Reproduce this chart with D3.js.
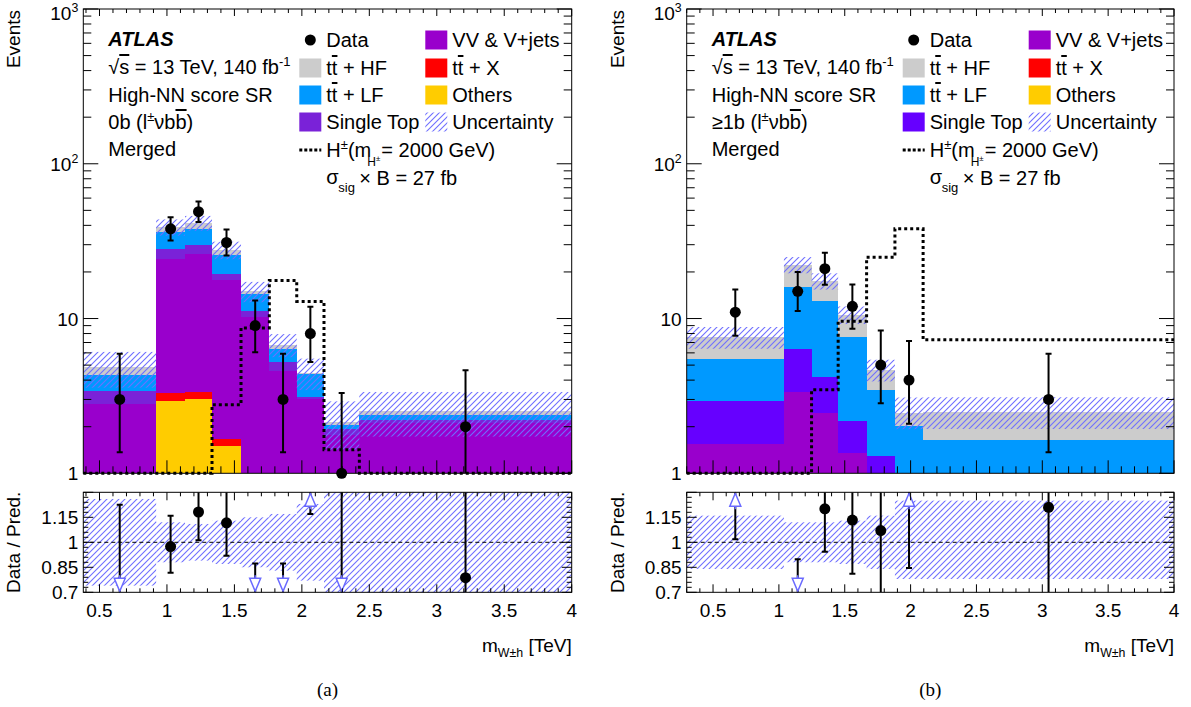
<!DOCTYPE html>
<html>
<head>
<meta charset="utf-8">
<script src="https://cdn.jsdelivr.net/npm/d3@7"></script>
<style>
  body { margin: 0; background: #fff; }
  svg text { font-family: "Liberation Sans", Arial, sans-serif; fill: #000; }
</style>
</head>
<body>
<div id="chart"></div>
<script>
// ---------- data ----------
// (a) 0b region, bin edges in TeV
const edgesA = [0.38, 0.92, 1.134, 1.334, 1.549, 1.759, 1.962, 2.164, 2.426, 4.0];
const dataA = [3, 38, 49, 31, 9, 3, 8, 1, 2];
const dataLoA = [1.37, 31.9, 42.0, 25.5, 6.06, 1.37, 5.24, 0.17, 0.71];
const dataHiA = [5.92, 45.2, 57.1, 37.6, 13.1, 5.92, 11.9, 3.30, 4.64];
const othersA = [0, 2.94, 3.03, 1.49, 0, 0, 0, 0, 0];
const ttxA = [0, 0.36, 0.33, 0.17, 0, 0, 0, 0, 0];
const vvA = [2.81, 21.0, 22.9, 16.2, 10.3, 4.55, 3.01, 1.77, 2.11];
const singleTopA = [0.60, 3.9, 3.4, 1.5, 0.9, 0.68, 0.12, 0.16, 0.10];
const ttlfA = [0.92, 8.0, 8.3, 6.4, 3.3, 1.12, 1.27, 0.12, 0.18];
const tthfA = [0.50, 2.8, 3.5, 2.0, 0.5, 0.43, 0.08, 0.11, 0.15];
const signalA = [0, 0, 0, 2.77, 8.7, 17.6, 12.9, 1.42, 0];
const uncUpA = [0.26, 0.12, 0.11, 0.13, 0.15, 0.17, 0.23, 0.35, 0.32];
const uncDnA = [0.26, 0.12, 0.11, 0.13, 0.15, 0.17, 0.23, 0.35, 0.32];

// (b) >=1b region
const edgesB = [0.3, 1.038, 1.248, 1.45, 1.666, 1.881, 2.095, 4.0];
const dataB = [11, 15, 21, 12, 5, 4, 3];
const dataLoB = [7.74, 11.2, 16.5, 8.59, 2.84, 2.09, 1.37];
const dataHiB = [15.4, 20.0, 26.6, 16.6, 8.38, 7.16, 5.92];
const othersB = [0, 0, 0, 0, 0, 0, 0];
const ttxB = [0, 0, 0, 0, 0, 0, 0];
const vvB = [1.55, 3.35, 2.45, 1.35, 0.55, 0, 0];
const singleTopB = [1.39, 3.03, 1.74, 0.84, 0.74, 0, 0];
const ttlfB = [2.56, 9.6, 8.7, 5.4, 2.14, 2.02, 1.63];
const tthfB = [2.1, 6.3, 4.6, 3.0, 1.24, 0.45, 0.85];
const signalB = [0, 0, 3.46, 9.6, 24.9, 38, 7.3];
const uncUpB = [0.16, 0.12, 0.12, 0.13, 0.16, 0.25, 0.25];
const uncDnB = [0.16, 0.12, 0.12, 0.13, 0.16, 0.22, 0.22];

// tick labels
const xMajorTicks = [0.5, 1, 1.5, 2, 2.5, 3, 3.5, 4];
const xTickLabels = ['0.5', '1', '1.5', '2', '2.5', '3', '3.5', '4'];
const ratioMajorTicks = [0.7, 0.85, 1, 1.15, 1.3];
const ratioTickLabels = ['0.7', '0.85', '1', '1.15', ''];

const stackKeys = ['others', 'ttx', 'vv', 'st', 'lf', 'hf'];

// ---------- layout ----------
const MAIN_TOP = 9, MAIN_BOT = 473.3;
const RAT_TOP = 492.3, RAT_BOT = 592.3;
const HATCH = '#6e6eff';

const svg = d3.select('#chart').append('svg')
  .attr('width', 1191)
  .attr('height', 707);
const defs = svg.append('defs');

// diagonal hatch used for the uncertainty band
const pat = defs.append('pattern')
  .attr('id', 'hatch')
  .attr('patternUnits', 'userSpaceOnUse')
  .attr('width', 6)
  .attr('height', 6);
[[-1, 1, 1, -1], [0, 6, 6, 0], [5, 7, 7, 5]].forEach(s => {
  pat.append('line')
    .attr('x1', s[0]).attr('y1', s[1]).attr('x2', s[2]).attr('y2', s[3])
    .style('stroke', HATCH)
    .style('stroke-width', 1.1)
    .style('fill', 'none');
});

// text with super/subscripts and overlines
function rich(parent, x, y, segs, size, anchor) {
  const t = parent.append('text')
    .attr('x', x).attr('y', y)
    .attr('font-size', size)
    .attr('text-anchor', anchor || 'start');
  let cur = 0;
  segs.forEach(s => {
    const seg = typeof s === 'string' ? { t: s } : s;
    let target = 0, fs = size;
    if (seg.sup) { target = -size * 0.42; fs = size * 0.65; }
    if (seg.sub) { target = size * 0.28; fs = size * 0.65; }
    const ts = t.append('tspan').text(seg.t).attr('dy', target - cur).attr('font-size', fs);
    if (seg.over) ts.style('text-decoration', 'overline');
    cur = target;
  });
  return t;
}

function drawPanel(p) {
  const g = svg.append('g');
  const x = d3.scaleLinear().domain([p.xmin, 4]).range([p.L, p.R]);
  const y = d3.scaleLog().domain([1, 1000]).range([MAIN_BOT, MAIN_TOP]);
  const yr = d3.scaleLinear().domain([0.7, 1.3]).range([RAT_BOT, RAT_TOP]);
  const yc = v => y(Math.max(v, 1));
  const clampR = v => Math.min(1.3, Math.max(0.7, v));

  defs.append('clipPath').attr('id', 'clipm' + p.id)
    .append('rect').attr('x', p.L).attr('y', MAIN_TOP).attr('width', p.R - p.L).attr('height', MAIN_BOT - MAIN_TOP);
  defs.append('clipPath').attr('id', 'clipr' + p.id)
    .append('rect').attr('x', p.L).attr('y', RAT_TOP).attr('width', p.R - p.L).attr('height', RAT_BOT - RAT_TOP);

  const rows = p.edges.slice(0, -1).map((e, i) => ({
    lo: e, hi: p.edges[i + 1], mid: (e + p.edges[i + 1]) / 2,
    others: p.others[i], ttx: p.ttx[i], vv: p.vv[i], st: p.st[i], lf: p.lf[i], hf: p.hf[i],
    data: p.data[i], dlo: p.dataLo[i], dhi: p.dataHi[i],
    up: p.uncUp[i], dn: p.uncDn[i]
  }));
  rows.forEach(r => { r.total = d3.sum(stackKeys, k => r[k]); });

  const main = g.append('g').attr('clip-path', `url(#clipm${p.id})`);

  // stacked backgrounds
  const series = d3.stack().keys(stackKeys)(rows);
  main.selectAll('g.layer').data(series).join('g')
    .attr('fill', d => p.colors[d.key])
    .selectAll('rect')
    .data(d => d.filter(s => s[1] > 1 && s[1] > s[0]))
    .join('rect')
    .attr('shape-rendering', 'crispEdges')
    .attr('x', d => x(d.data.lo))
    .attr('width', d => x(d.data.hi) - x(d.data.lo))
    .attr('y', d => yc(d[1]))
    .attr('height', d => yc(d[0]) - yc(d[1]));

  // uncertainty band
  main.selectAll('rect.unc').data(rows).join('rect')
    .attr('class', 'unc')
    .attr('x', d => x(d.lo))
    .attr('width', d => x(d.hi) - x(d.lo))
    .attr('y', d => yc(d.total * (1 + d.up)))
    .attr('height', d => yc(d.total * (1 - d.dn)) - yc(d.total * (1 + d.up)))
    .attr('fill', 'url(#hatch)');

  // signal
  const sigPts = p.signal.map((v, i) => [p.edges[i], v]);
  sigPts.push([p.edges[p.edges.length - 1], p.signal[p.signal.length - 1]]);
  g.append('path')
    .datum(sigPts)
    .attr('d', d3.line().x(d => x(d[0])).y(d => yc(d[1])).curve(d3.curveStepAfter))
    .attr('fill', 'none')
    .attr('stroke', '#000')
    .attr('stroke-width', 3)
    .attr('stroke-dasharray', '3,3');

  // data error bars (main)
  const eb = main.append('g').attr('stroke', '#000').attr('stroke-width', 2);
  rows.forEach(r => {
    const cx = x(r.mid);
    eb.append('line').attr('x1', cx).attr('x2', cx).attr('y1', yc(r.dlo)).attr('y2', y(r.dhi));
    eb.append('line').attr('x1', cx - 3).attr('x2', cx + 3).attr('y1', y(r.dhi)).attr('y2', y(r.dhi));
    if (r.dlo >= 1) eb.append('line').attr('x1', cx - 3).attr('x2', cx + 3).attr('y1', y(r.dlo)).attr('y2', y(r.dlo));
  });
  g.selectAll('circle.dm').data(rows).join('circle')
    .attr('class', 'dm')
    .attr('cx', d => x(d.mid)).attr('cy', d => yc(d.data)).attr('r', 5.5)
    .attr('fill', '#000');

  // ---------- ratio panel ----------
  const rat = g.append('g').attr('clip-path', `url(#clipr${p.id})`);
  rat.selectAll('rect.runc').data(rows).join('rect')
    .attr('x', d => x(d.lo))
    .attr('width', d => x(d.hi) - x(d.lo))
    .attr('y', d => yr(1 + d.up))
    .attr('height', d => yr(1 - d.dn) - yr(1 + d.up))
    .attr('fill', 'url(#hatch)');
  g.append('line')
    .attr('x1', p.L).attr('x2', p.R).attr('y1', yr(1)).attr('y2', yr(1))
    .attr('stroke', '#000').attr('stroke-width', 1).attr('stroke-dasharray', '4,3');

  const reb = rat.append('g').attr('stroke', '#000').attr('stroke-width', 2);
  rows.forEach(r => {
    const cx = x(r.mid);
    const rv = r.data / r.total, rl = r.dlo / r.total, rh = r.dhi / r.total;
    reb.append('line').attr('x1', cx).attr('x2', cx).attr('y1', yr(clampR(rl))).attr('y2', yr(clampR(rh)));
    if (rh <= 1.3) reb.append('line').attr('x1', cx - 3).attr('x2', cx + 3).attr('y1', yr(rh)).attr('y2', yr(rh));
    if (rl >= 0.7) reb.append('line').attr('x1', cx - 3).attr('x2', cx + 3).attr('y1', yr(rl)).attr('y2', yr(rl));
    if (rv >= 0.7 && rv <= 1.3) {
      g.append('circle').attr('cx', cx).attr('cy', yr(rv)).attr('r', 5.5).attr('fill', '#000');
    } else {
      const up = rv > 1.3;
      const tip = up ? RAT_TOP + 1 : RAT_BOT - 1;
      const base = up ? tip + 13 : tip - 13;
      g.append('path')
        .attr('d', `M${cx - 5.5},${base} L${cx + 5.5},${base} L${cx},${tip} Z M${cx},${base} L${cx},${base + (up ? 3 : -3)}`)
        .attr('fill', '#fff')
        .attr('stroke', '#6a6aff')
        .attr('stroke-width', 1.5);
    }
  });

  // ---------- frames and ticks ----------
  const ax = g.append('g').attr('stroke', '#000').attr('stroke-width', 1).attr('fill', 'none');
  ax.append('rect').attr('x', p.L).attr('y', MAIN_TOP).attr('width', p.R - p.L).attr('height', MAIN_BOT - MAIN_TOP);
  ax.append('rect').attr('x', p.L).attr('y', RAT_TOP).attr('width', p.R - p.L).attr('height', RAT_BOT - RAT_TOP);

  y.ticks().forEach(t => {
    const lg = Math.log10(t);
    const major = Math.abs(lg - Math.round(lg)) < 1e-9;
    const len = major ? 15 : 8;
    ax.append('line').attr('x1', p.L).attr('x2', p.L + len).attr('y1', y(t)).attr('y2', y(t));
    ax.append('line').attr('x1', p.R).attr('x2', p.R - len).attr('y1', y(t)).attr('y2', y(t));
    if (major) {
      const e = Math.round(lg);
      const segs = e === 0 ? ['1'] : e === 1 ? ['10'] : ['10', { t: String(e), sup: true }];
      rich(g, p.L - 5, Math.max(y(t) + 7, 20), segs, 19, 'end');
    }
  });

  const xMinor = d3.range(Math.ceil(p.xmin * 10 - 1e-9), 41).map(v => v / 10);
  xMinor.forEach(t => {
    const major = xMajorTicks.some(m => Math.abs(m - t) < 1e-9);
    const xx = x(t);
    ax.append('line').attr('x1', xx).attr('x2', xx).attr('y1', MAIN_BOT).attr('y2', MAIN_BOT - (major ? 13 : 7));
    ax.append('line').attr('x1', xx).attr('x2', xx).attr('y1', MAIN_TOP).attr('y2', MAIN_TOP + (major ? 7 : 4));
    ax.append('line').attr('x1', xx).attr('x2', xx).attr('y1', RAT_BOT).attr('y2', RAT_BOT - (major ? 8 : 4));
    ax.append('line').attr('x1', xx).attr('x2', xx).attr('y1', RAT_TOP).attr('y2', RAT_TOP + (major ? 8 : 4));
  });
  xMajorTicks.forEach((t, i) => {
    g.append('text').attr('x', x(t)).attr('y', 617).attr('text-anchor', 'middle')
      .attr('font-size', 19).text(xTickLabels[i]);
  });

  d3.range(70, 131, 3).map(v => v / 100).forEach(t => {
    const major = ratioMajorTicks.some(m => Math.abs(m - t) < 1e-9);
    const len = major ? 10 : 5;
    ax.append('line').attr('x1', p.L).attr('x2', p.L + len).attr('y1', yr(t)).attr('y2', yr(t));
    ax.append('line').attr('x1', p.R).attr('x2', p.R - len).attr('y1', yr(t)).attr('y2', yr(t));
  });
  ratioMajorTicks.forEach((t, i) => {
    g.append('text').attr('x', p.L - 5).attr('y', yr(t) + 7).attr('text-anchor', 'end')
      .attr('font-size', 19).text(ratioTickLabels[i]);
  });

  // axis titles
  g.append('text')
    .attr('transform', `translate(${p.L - 63},${MAIN_TOP + 1}) rotate(-90)`)
    .attr('text-anchor', 'end').attr('font-size', 19).text('Events');
  g.append('text')
    .attr('transform', `translate(${p.L - 63},${(RAT_TOP + RAT_BOT) / 2}) rotate(-90)`)
    .attr('text-anchor', 'middle').attr('font-size', 19).text('Data / Pred.');
  rich(g, p.R, 652, ['m', { t: 'W±h', sub: true }, ' [TeV]'], 19, 'end');
  g.append('text')
    .attr('x', (p.L + p.R) / 2).attr('y', 696).attr('text-anchor', 'middle')
    .attr('font-size', 19).style('font-family', '"Liberation Serif", "Times New Roman", serif')
    .text(p.caption);

  // ---------- labels and legend ----------
  const L = p.L;
  g.append('text').attr('x', L + 25).attr('y', 46).attr('font-size', 20)
    .attr('font-weight', 'bold').attr('font-style', 'italic').text('ATLAS');
  rich(g, L + 25, 74, ['√', { t: 's', over: true }, ' = 13 TeV, 140 fb', { t: '-1', sup: true }], 20);
  g.append('text').attr('x', L + 25).attr('y', 102).attr('font-size', 20).text('High-NN score SR');
  rich(g, L + 25, 129, p.region, 20);
  g.append('text').attr('x', L + 25).attr('y', 156).attr('font-size', 20).text('Merged');

  const c1 = L + 216, c2 = L + 342, bw = 22, bh = 19;
  const rowsY = [40, 68, 95, 122];
  const ttbar = [{ t: 't' }, { t: 't', over: true }];
  const leg1 = [
    { y: rowsY[1], fill: p.colors.hf, label: ttbar.concat([' + HF']) },
    { y: rowsY[2], fill: p.colors.lf, label: ttbar.concat([' + LF']) },
    { y: rowsY[3], fill: p.colors.st, label: ['Single Top'] }
  ];
  const leg2 = [
    { y: rowsY[0], fill: p.colors.vv, label: ['VV & V+jets'] },
    { y: rowsY[1], fill: p.colors.ttx, label: ttbar.concat([' + X']) },
    { y: rowsY[2], fill: p.colors.others, label: ['Others'] },
    { y: rowsY[3], fill: 'url(#hatch)', label: ['Uncertainty'] }
  ];
  g.append('circle').attr('cx', c1 + 11).attr('cy', rowsY[0]).attr('r', 5.5).attr('fill', '#000');
  g.append('text').attr('x', c1 + 27).attr('y', rowsY[0] + 7).attr('font-size', 20).text('Data');
  [[leg1, c1], [leg2, c2]].forEach(([entries, cx]) => {
    entries.forEach(e => {
      g.append('rect').attr('x', cx).attr('y', e.y - bh / 2).attr('width', bw).attr('height', bh).attr('fill', e.fill);
      rich(g, cx + 27, e.y + 7, e.label, 20);
    });
  });
  g.append('line').attr('x1', c1).attr('x2', c1 + bw).attr('y1', 150).attr('y2', 150)
    .attr('stroke', '#000').attr('stroke-width', 3).attr('stroke-dasharray', '3,2');
  rich(g, c1 + 27, 157, ['H', { t: '±', sup: true }, '(m'], 20);
  rich(g, c1 + 68, 166, ['H', { t: '±', sup: true }], 12);
  g.append('text').attr('x', c1 + 82).attr('y', 157).attr('font-size', 20).text('= 2000 GeV)');
  g.append('text').attr('x', c1 + 27).attr('y', 184).attr('font-size', 20).text('σ');
  g.append('text').attr('x', c1 + 39).attr('y', 192).attr('font-size', 13).text('sig');
  g.append('text').attr('x', c1 + 60).attr('y', 185).attr('font-size', 20).text('× B = 27 fb');
}

drawPanel({
  id: 'a', L: 83.3, R: 571.7, xmin: 0.38, caption: '(a)',
  edges: edgesA, data: dataA, dataLo: dataLoA, dataHi: dataHiA,
  others: othersA, ttx: ttxA, vv: vvA, st: singleTopA, lf: ttlfA, hf: tthfA,
  signal: signalA, uncUp: uncUpA, uncDn: uncDnA,
  colors: { others: '#ffcc00', ttx: '#ff0000', vv: '#9900cc', st: '#7a22d8', lf: '#0099ff', hf: '#cccccc' },
  region: ['0b (l', { t: '±', sup: true }, 'νb', { t: 'b', over: true }, ')']
});
drawPanel({
  id: 'b', L: 686.7, R: 1174, xmin: 0.3, caption: '(b)',
  edges: edgesB, data: dataB, dataLo: dataLoB, dataHi: dataHiB,
  others: othersB, ttx: ttxB, vv: vvB, st: singleTopB, lf: ttlfB, hf: tthfB,
  signal: signalB, uncUp: uncUpB, uncDn: uncDnB,
  colors: { others: '#ffcc00', ttx: '#ff0000', vv: '#9900cc', st: '#6600ff', lf: '#0099ff', hf: '#cccccc' },
  region: ['≥1b (l', { t: '±', sup: true }, 'νb', { t: 'b', over: true }, ')']
});
</script>
</body>
</html>
